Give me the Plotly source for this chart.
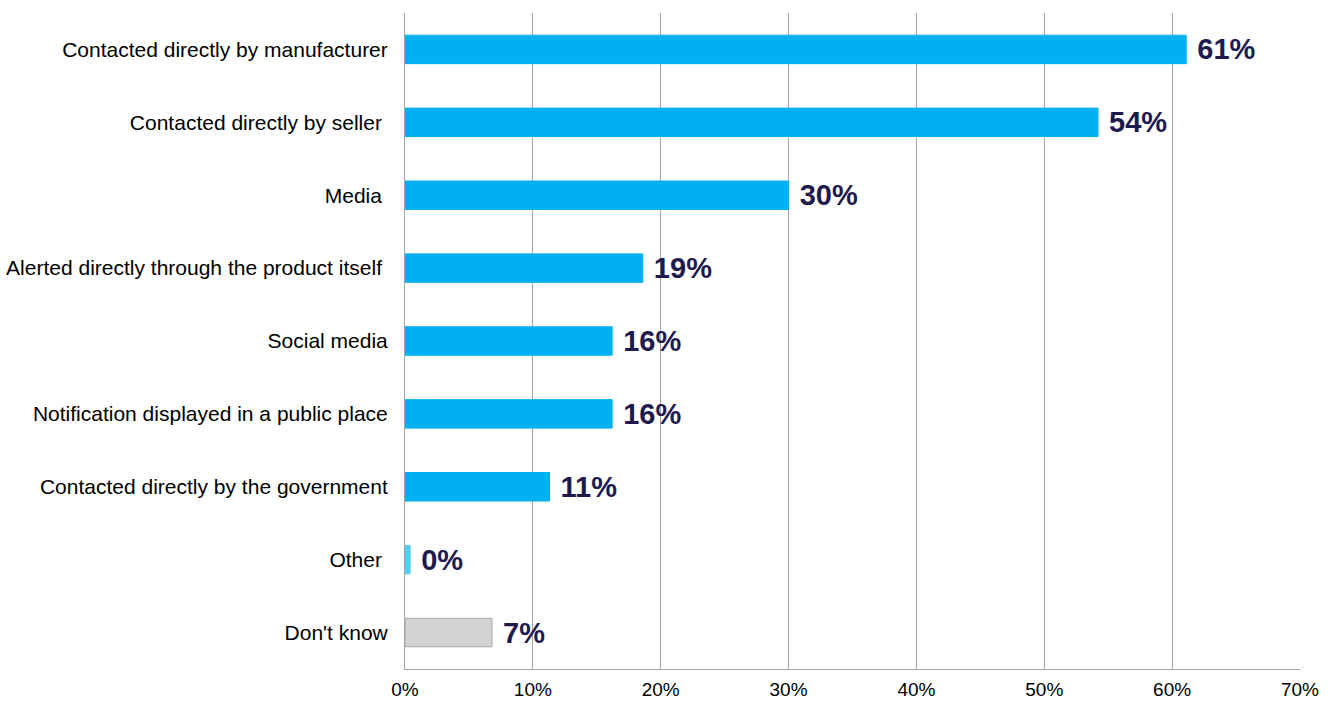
import plotly.graph_objects as go

# Survey responses: how people learned about a product recall
categories = [
    "Contacted directly by manufacturer",
    "Contacted directly by seller ",
    "Media ",
    "Alerted directly through the product itself ",
    "Social media",
    "Notification displayed in a public place",
    "Contacted directly by the government",
    "Other ",
    "Don't know",
]
shares = [61.1, 54.2, 30.0, 18.6, 16.2, 16.2, 11.3, 0.4, 6.8]
bar_colors = ["#00B0F0"] * 7 + ["#52CDF4", "#D3D3D3"]
line_colors = ["#00B0F0"] * 7 + ["#52CDF4", "#A6A6A6"]
tick_vals = [0, 10, 20, 30, 40, 50, 60, 70]
tick_text = ["0%", "10%", "20%", "30%", "40%", "50%", "60%", "70%"]

fig = go.Figure(
    go.Bar(
        x=shares,
        y=categories,
        orientation="h",
        width=0.39,
        marker=dict(color=bar_colors, line=dict(color=line_colors, width=1)),
        texttemplate=" %{x:.0f}%",
        textposition="outside",
        constraintext="none",
        cliponaxis=False,
        textfont=dict(family="Liberation Sans, Arial, sans-serif", size=29,
                      color="#1F1A4E", weight="bold"),
        hoverinfo="skip",
    )
)

fig.update_layout(
    width=1333,
    height=702,
    margin=dict(l=405, r=33, t=13, b=33),
    plot_bgcolor="white",
    paper_bgcolor="white",
    showlegend=False,
    font=dict(family="Liberation Sans, Arial, sans-serif", color="#000000"),
    xaxis=dict(
        range=[0, 70],
        tickvals=tick_vals,
        ticktext=tick_text,
        showgrid=True,
        gridcolor="#A6A6A6",
        gridwidth=1,
        zeroline=False,
        showline=True,
        linecolor="#A6A6A6",
        linewidth=1,
        ticks="",
        tickfont=dict(size=19, color="#000000"),
        ticklabelstandoff=3,
        automargin=False,
        fixedrange=True,
    ),
    yaxis=dict(
        autorange="reversed",
        showline=True,
        linecolor="#A6A6A6",
        linewidth=1,
        showgrid=False,
        ticks="",
        tickfont=dict(size=21, color="#000000"),
        ticklabelstandoff=12,
        automargin=False,
        fixedrange=True,
    ),
)

fig.write_html("out.html")
